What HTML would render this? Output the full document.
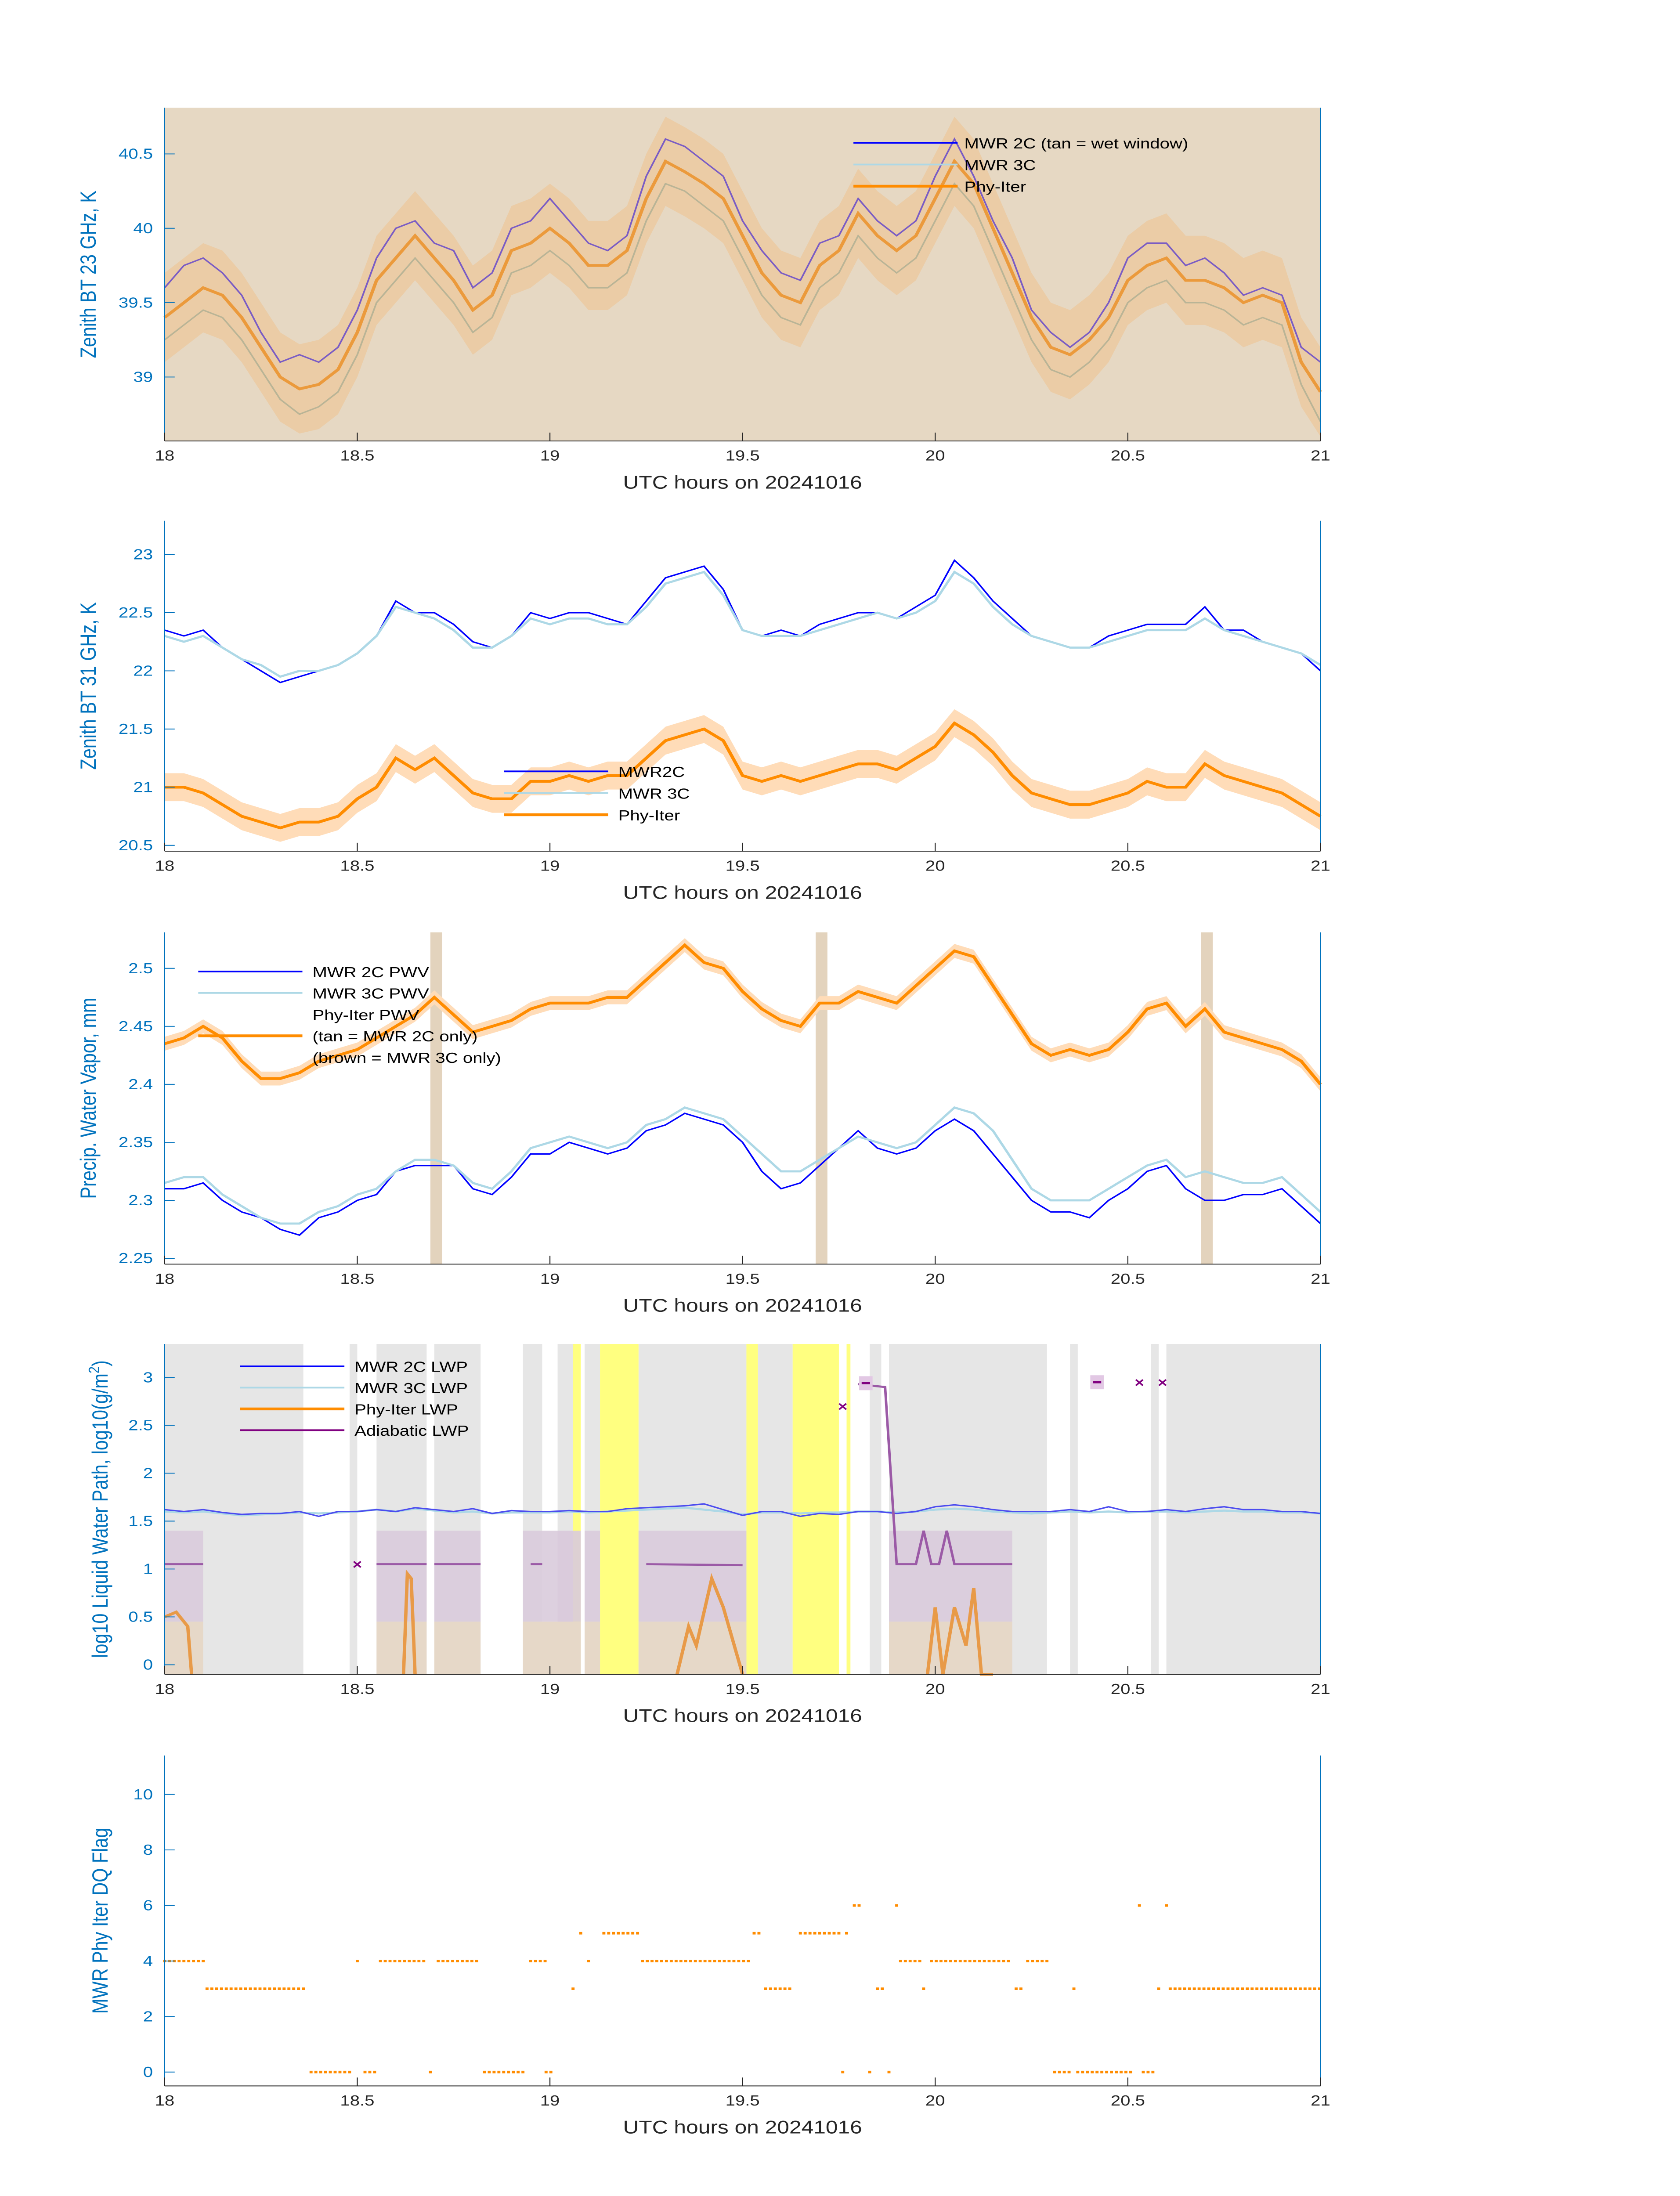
<!DOCTYPE html>
<html><head><meta charset="utf-8"><style>
html,body{margin:0;padding:0;background:#fff;width:100vw;height:100vh;overflow:hidden}
svg{display:block;font-family:"Liberation Sans",sans-serif;width:100vw;height:100vh}
</style></head><body>
<svg id="fig" viewBox="0 0 1000 1568.63" preserveAspectRatio="none" xmlns="http://www.w3.org/2000/svg"></svg>
<script>
const times=[];for(let i=0;i<=60;i++)times.push(18+i*0.05);
const xTicks=[18,18.5,19,19.5,20,20.5,21];
// Panel 1 (23 GHz)
const p1Phy=[39.4,39.5,39.6,39.55,39.4,39.2,39.0,38.92,38.95,39.05,39.3,39.65,39.8,39.95,39.8,39.65,39.45,39.55,39.85,39.9,40.0,39.9,39.75,39.75,39.85,40.2,40.45,40.38,40.3,40.2,39.95,39.7,39.55,39.5,39.75,39.85,40.1,39.95,39.85,39.95,40.2,40.45,40.3,40.0,39.7,39.4,39.2,39.15,39.25,39.4,39.65,39.75,39.8,39.65,39.65,39.6,39.5,39.55,39.5,39.1,38.9];
const p1M2=[39.6,39.75,39.8,39.7,39.55,39.3,39.1,39.15,39.1,39.2,39.45,39.8,40.0,40.05,39.9,39.85,39.6,39.7,40.0,40.05,40.2,40.05,39.9,39.85,39.95,40.35,40.6,40.55,40.45,40.35,40.05,39.85,39.7,39.65,39.9,39.95,40.2,40.05,39.95,40.05,40.35,40.6,40.35,40.05,39.8,39.45,39.3,39.2,39.3,39.5,39.8,39.9,39.9,39.75,39.8,39.7,39.55,39.6,39.55,39.2,39.1];
const p1M3=[39.25,39.35,39.45,39.4,39.25,39.05,38.85,38.75,38.8,38.9,39.15,39.5,39.65,39.8,39.65,39.5,39.3,39.4,39.7,39.75,39.85,39.75,39.6,39.6,39.7,40.05,40.3,40.25,40.15,40.05,39.8,39.55,39.4,39.35,39.6,39.7,39.95,39.8,39.7,39.8,40.05,40.3,40.15,39.85,39.55,39.25,39.05,39.0,39.1,39.25,39.5,39.6,39.65,39.5,39.5,39.45,39.35,39.4,39.35,38.95,38.7];
const p1Ticks=[39,39.5,40,40.5];
// Panel 2 (31 GHz)
const p2Phy=[21.0,21.0,20.95,20.85,20.75,20.7,20.65,20.7,20.7,20.75,20.9,21.0,21.25,21.15,21.25,21.1,20.95,20.9,20.9,21.05,21.05,21.1,21.05,21.1,21.1,21.25,21.4,21.45,21.5,21.4,21.1,21.05,21.1,21.05,21.1,21.15,21.2,21.2,21.15,21.25,21.35,21.55,21.45,21.3,21.1,20.95,20.9,20.85,20.85,20.9,20.95,21.05,21.0,21.0,21.2,21.1,21.05,21.0,20.95,20.85,20.75];
const p2M2=[22.35,22.3,22.35,22.2,22.1,22.0,21.9,21.95,22.0,22.05,22.15,22.3,22.6,22.5,22.5,22.4,22.25,22.2,22.3,22.5,22.45,22.5,22.5,22.45,22.4,22.6,22.8,22.85,22.9,22.7,22.35,22.3,22.35,22.3,22.4,22.45,22.5,22.5,22.45,22.55,22.65,22.95,22.8,22.6,22.45,22.3,22.25,22.2,22.2,22.3,22.35,22.4,22.4,22.4,22.55,22.35,22.35,22.25,22.2,22.15,22.0];
const p2M3=[22.3,22.25,22.3,22.2,22.1,22.05,21.95,22.0,22.0,22.05,22.15,22.3,22.55,22.5,22.45,22.35,22.2,22.2,22.3,22.45,22.4,22.45,22.45,22.4,22.4,22.55,22.75,22.8,22.85,22.65,22.35,22.3,22.3,22.3,22.35,22.4,22.45,22.5,22.45,22.5,22.6,22.85,22.75,22.55,22.4,22.3,22.25,22.2,22.2,22.25,22.3,22.35,22.35,22.35,22.45,22.35,22.3,22.25,22.2,22.15,22.05];
const p2Ticks=[20.5,21,21.5,22,22.5,23];
// Panel 3 (PWV)
const p3Phy=[2.435,2.44,2.45,2.44,2.42,2.405,2.405,2.41,2.42,2.425,2.43,2.44,2.45,2.46,2.475,2.46,2.445,2.45,2.455,2.465,2.47,2.47,2.47,2.475,2.475,2.49,2.505,2.52,2.505,2.5,2.48,2.465,2.455,2.45,2.47,2.47,2.48,2.475,2.47,2.485,2.5,2.515,2.51,2.485,2.46,2.435,2.425,2.43,2.425,2.43,2.445,2.465,2.47,2.45,2.465,2.445,2.44,2.435,2.43,2.42,2.4];
const p3M2=[2.31,2.31,2.315,2.3,2.29,2.285,2.275,2.27,2.285,2.29,2.3,2.305,2.325,2.33,2.33,2.33,2.31,2.305,2.32,2.34,2.34,2.35,2.345,2.34,2.345,2.36,2.365,2.375,2.37,2.365,2.35,2.325,2.31,2.315,2.33,2.345,2.36,2.345,2.34,2.345,2.36,2.37,2.36,2.34,2.32,2.3,2.29,2.29,2.285,2.3,2.31,2.325,2.33,2.31,2.3,2.3,2.305,2.305,2.31,2.295,2.28];
const p3M3=[2.315,2.32,2.32,2.305,2.295,2.285,2.28,2.28,2.29,2.295,2.305,2.31,2.325,2.335,2.335,2.33,2.315,2.31,2.325,2.345,2.35,2.355,2.35,2.345,2.35,2.365,2.37,2.38,2.375,2.37,2.355,2.34,2.325,2.325,2.335,2.345,2.355,2.35,2.345,2.35,2.365,2.38,2.375,2.36,2.335,2.31,2.3,2.3,2.3,2.31,2.32,2.33,2.335,2.32,2.325,2.32,2.315,2.315,2.32,2.305,2.29];
const p3Bars=[18.705,19.705,20.705];
const p3Ticks=[2.25,2.3,2.35,2.4,2.45,2.5];
// Panel 4 (LWP)
const grayStart=[18,18.48,18.55,18.7,18.93,19.02,19.09,19.23,19.54,19.83,19.88,20.35,20.56,20.6];
const grayEnd=[18.36,18.5,18.68,18.82,18.98,19.06,19.13,19.51,19.63,19.86,20.29,20.37,20.58,21];
const yelStart=[19.06,19.13,19.51,19.63,19.77];
const yelEnd=[19.08,19.23,19.54,19.75,19.78];
const purpStart=[18,18.55,18.7,18.93,19.02,19.09,19.23,19.88];
const purpEnd=[18.1,18.68,18.82,19.06,19.08,19.13,19.51,20.2];
const p4M2=[1.62,1.6,1.62,1.59,1.57,1.58,1.58,1.6,1.55,1.6,1.6,1.62,1.6,1.64,1.62,1.6,1.63,1.58,1.61,1.6,1.6,1.61,1.6,1.6,1.63,1.64,1.65,1.66,1.68,1.62,1.56,1.6,1.6,1.55,1.58,1.57,1.6,1.6,1.58,1.6,1.65,1.67,1.65,1.62,1.6,1.6,1.6,1.62,1.6,1.65,1.6,1.6,1.62,1.6,1.63,1.65,1.62,1.62,1.6,1.6,1.58];
const p4M3=[1.6,1.59,1.6,1.58,1.56,1.57,1.58,1.59,1.58,1.59,1.6,1.62,1.6,1.63,1.61,1.59,1.6,1.58,1.59,1.59,1.59,1.6,1.59,1.6,1.61,1.62,1.63,1.64,1.62,1.6,1.57,1.59,1.59,1.58,1.59,1.59,1.6,1.6,1.59,1.6,1.62,1.63,1.62,1.6,1.59,1.58,1.59,1.6,1.59,1.6,1.59,1.6,1.6,1.59,1.6,1.61,1.6,1.6,1.59,1.59,1.58];
const adiaT=[18,18.1,null,18.55,18.68,null,18.7,18.82,null,18.95,18.98,null,19.25,19.5,null,19.8,19.87,19.9,19.95,19.97,19.99,20.01,20.03,20.05,20.07,20.2];
const adiaV=[1.05,1.05,null,1.05,1.05,null,1.05,1.05,null,1.05,1.05,null,1.05,1.04,null,2.93,2.9,1.05,1.05,1.4,1.05,1.05,1.4,1.05,1.05,1.05];
const phyLwpT=[18,18.03,18.06,18.07,null,18.62,18.63,18.64,18.65,null,19.33,19.36,19.38,19.42,19.45,19.5,null,19.98,20.0,20.02,20.05,20.08,20.1,20.12,20.15];
const phyLwpV=[0.5,0.55,0.4,-0.1,null,-0.1,0.95,0.9,-0.1,null,-0.1,0.4,0.2,0.9,0.6,-0.1,null,-0.1,0.6,-0.1,0.6,0.2,0.8,-0.1,-0.1];
const xMarkT=[18.5,19.76,20.53,20.59];
const xMarkV=[1.05,2.7,2.95,2.95];
const dashT=[19.82,20.42];
const dashV=[2.94,2.95];
const p4Ticks=[0,0.5,1,1.5,2,2.5,3];
// Panel 5 (DQ flag) runs
const runStart=[18,18.11,18.38,18.5,18.52,18.56,18.69,18.71,18.83,18.95,18.99,19.06,19.08,19.1,19.14,19.24,19.53,19.56,19.65,19.76,19.77,19.79,19.83,19.85,19.88,19.9,19.91,19.97,19.99,20.21,20.24,20.31,20.36,20.37,20.53,20.54,20.58,20.6,20.61];
const runEnd=[18.1,18.36,18.48,18.5,18.55,18.68,18.69,18.81,18.93,18.99,19.01,19.06,19.08,19.1,19.23,19.52,19.55,19.63,19.75,19.76,19.77,19.81,19.83,19.87,19.88,19.9,19.96,19.97,20.2,20.23,20.29,20.35,20.36,20.51,20.53,20.57,20.58,20.6,21];
const runVal=[4,3,0,4,0,4,0,4,0,4,0,3,5,4,5,4,5,3,5,0,5,6,0,3,0,6,4,3,4,3,4,0,3,0,6,0,3,6,3];
const p5Ticks=[0,2,4,6,8,10];

const NS='http://www.w3.org/2000/svg';
const fig=document.getElementById('fig');
const X0=98,X1=786;
const sx=t=>X0+(t-18)/3*(X1-X0);
function mk(tag,attrs,parent){const e=document.createElementNS(NS,tag);for(const k in attrs)e.setAttribute(k,attrs[k]);(parent||fig).appendChild(e);return e;}
function scaleY(top,bot,vTop,vBot){return v=>top+(vTop-v)/(vTop-vBot)*(bot-top);}
function pathOf(ts,vs,sy){let d='',pen=false;for(let i=0;i<ts.length;i++){if(ts[i]===null||vs[i]===null){pen=false;continue;}d+=(pen?'L':'M')+sx(ts[i]).toFixed(2)+' '+sy(vs[i]).toFixed(2);pen=true;}return d;}
function bandOf(ts,vs,w,sy){let a=[],b=[];for(let i=0;i<ts.length;i++){a.push(sx(ts[i]).toFixed(2)+','+sy(vs[i]+w).toFixed(2));b.unshift(sx(ts[i]).toFixed(2)+','+sy(vs[i]-w).toFixed(2));}return a.concat(b).join(' ');}
function axes(g,top,bot,sy,yt,ylab,name){
  mk('line',{x1:X0,y1:bot,x2:X1,y2:bot,stroke:'#262626','stroke-width':0.6},g);
  mk('line',{x1:X0,y1:top,x2:X0,y2:bot,stroke:'#0072BD','stroke-width':0.6},g);
  mk('line',{x1:X1,y1:top,x2:X1,y2:bot,stroke:'#0072BD','stroke-width':0.6},g);
  xTicks.forEach(t=>{mk('line',{x1:sx(t),y1:bot,x2:sx(t),y2:bot-6,stroke:'#262626','stroke-width':0.6},g);
    const tx=mk('text',{x:sx(t),y:bot+14,'font-size':10.5,'text-anchor':'middle',fill:'#262626'},g);tx.textContent=t;
    
    });
  yt.forEach(v=>{mk('line',{x1:X0,y1:sy(v),x2:X0+6,y2:sy(v),stroke:'#0072BD','stroke-width':0.6},g);
    const tx=mk('text',{x:X0-7,y:sy(v)+3.5,'font-size':10.5,'text-anchor':'end',fill:'#0072BD'},g);tx.textContent=v;
    
    });
  const xl=mk('text',{x:(X0+X1)/2,y:bot+34,'font-size':13,'text-anchor':'middle',fill:'#262626'},g);xl.textContent='UTC hours on 20241016';
  
  
  const cy=(top+bot)/2;
  const yl=mk('text',{x:0,y:0,'font-size':13,'text-anchor':'middle',fill:'#0072BD',transform:`translate(${name==='p4'||name==='p5'?64:57},${cy}) rotate(-90)`},g);
  yl.innerHTML=ylab;
  
  
}
function legend(g,x,y0,dy,items,textX){items.forEach((it,i)=>{const y=y0+i*dy;
  if(it.c)mk('line',{x1:x,y1:y,x2:x+62,y2:y,stroke:it.c,'stroke-width':it.w},g);
  const t=mk('text',{x:textX,y:y+4,'font-size':10.5,fill:'#000'},g);t.textContent=it.t;
  
  });}
function panel(name){const g=mk('g',{});return g;}

// Panel 1
{const g=panel('panel-23ghz');const top=77,bot=315,sy=scaleY(top,bot,40.81,38.57);
 mk('rect',{x:X0,y:top,width:X1-X0,height:bot-top,fill:'#e6d8c3'},g);
 mk('polygon',{points:bandOf(times,p1Phy,0.3,sy),fill:'#efc593','fill-opacity':0.6},g);
 mk('path',{d:pathOf(times,p1M3,sy),fill:'none',stroke:'#b9b496','stroke-width':1},g);
 mk('path',{d:pathOf(times,p1M2,sy),fill:'none',stroke:'#7a5cc4','stroke-width':1},g);
 mk('path',{d:pathOf(times,p1Phy,sy),fill:'none',stroke:'#eb9a3c','stroke-width':2},g);
 axes(g,top,bot,sy,p1Ticks,'Zenith BT 23 GHz, K','p1');
 legend(g,508,102,15.5,[{c:'#0000ff',w:1.2,t:'MWR 2C (tan = wet window)'},{c:'#add8e6',w:1.2,t:'MWR 3C'},{c:'#ff8c00',w:2,t:'Phy-Iter'}],574);}
// Panel 2
{const g=panel('panel-31ghz');const top=372,bot=608,sy=scaleY(top,bot,23.29,20.45);
 mk('polygon',{points:bandOf(times,p2Phy,0.12,sy),fill:'#ffdcb8'},g);
 mk('path',{d:pathOf(times,p2M2,sy),fill:'none',stroke:'#0000ff','stroke-width':1},g);
 mk('path',{d:pathOf(times,p2M3,sy),fill:'none',stroke:'#add8e6','stroke-width':1.5},g);
 mk('path',{d:pathOf(times,p2Phy,sy),fill:'none',stroke:'#ff8c00','stroke-width':2},g);
 axes(g,top,bot,sy,p2Ticks,'Zenith BT 31 GHz, K','p2');
 legend(g,300,551,15.5,[{c:'#0000ff',w:1.2,t:'MWR2C'},{c:'#add8e6',w:1.2,t:'MWR 3C'},{c:'#ff8c00',w:2,t:'Phy-Iter'}],368);}
// Panel 3
{const g=panel('panel-pwv');const top=666,bot=903,sy=scaleY(top,bot,2.531,2.245);
 p3Bars.forEach(t=>{const r=mk('rect',{x:sx(t)-3.5,y:top,width:7,height:bot-top,fill:'#e3d3bd'},g);
   
   });
 mk('polygon',{points:bandOf(times,p3Phy,0.006,sy),fill:'#ffdcb8'},g);
 mk('path',{d:pathOf(times,p3M2,sy),fill:'none',stroke:'#0000ff','stroke-width':1},g);
 mk('path',{d:pathOf(times,p3M3,sy),fill:'none',stroke:'#add8e6','stroke-width':1.5},g);
 mk('path',{d:pathOf(times,p3Phy,sy),fill:'none',stroke:'#ff8c00','stroke-width':2},g);
 axes(g,top,bot,sy,p3Ticks,'Precip. Water Vapor, mm','p3');
 legend(g,118,694,15.3,[{c:'#0000ff',w:1.2,t:'MWR 2C PWV'},{c:'#add8e6',w:1.2,t:'MWR 3C PWV'},{c:null,t:'Phy-Iter PWV'},{c:'#ff8c00',w:2,t:'(tan = MWR 2C only)'},{c:null,t:'(brown = MWR 3C only)'}],186);}
// Panel 4
{const g=panel('panel-lwp');const top=960,bot=1196,sy=scaleY(top,bot,3.35,-0.1);
 grayStart.forEach((s,i)=>{const r=mk('rect',{x:sx(s),y:top,width:sx(grayEnd[i])-sx(s),height:bot-top,fill:'#e6e6e6'},g);
   
   });
 yelStart.forEach((s,i)=>{const r=mk('rect',{x:sx(s),y:top,width:sx(yelEnd[i])-sx(s),height:bot-top,fill:'#ffff80'},g);
   
   });
 purpStart.forEach((s,i)=>{mk('rect',{x:sx(s),y:sy(1.4),width:sx(purpEnd[i])-sx(s),height:sy(0.45)-sy(1.4),fill:'#d9cbdc','fill-opacity':0.9},g);
   mk('rect',{x:sx(s),y:sy(0.45),width:sx(purpEnd[i])-sx(s),height:bot-sy(0.45),fill:'#e6d8c8'},g);});
 mk('path',{d:pathOf(times,p4M3,sy),fill:'none',stroke:'#add8e6','stroke-width':1.5},g);
 mk('path',{d:pathOf(times,p4M2,sy),fill:'none',stroke:'#4b4bef','stroke-width':1},g);
 mk('path',{d:pathOf(phyLwpT,phyLwpV,sy),fill:'none',stroke:'#e89a48','stroke-width':2},g);
 mk('path',{d:pathOf(adiaT,adiaV,sy),fill:'none',stroke:'#9b5aa6','stroke-width':1.5},g);
 xMarkT.forEach((t,i)=>{const m=mk('text',{x:sx(t),y:sy(xMarkV[i])+3.5,'font-size':10,'font-weight':'bold','text-anchor':'middle',fill:'#800080'},g);m.textContent='×';
   
   });
 dashT.forEach((t,i)=>{mk('rect',{x:sx(t)-4,y:sy(dashV[i])-5,width:8,height:10,fill:'#e2c8e4'},g);
   mk('line',{x1:sx(t)-2.5,y1:sy(dashV[i]),x2:sx(t)+2.5,y2:sy(dashV[i]),stroke:'#800080','stroke-width':1.5},g);});
 axes(g,top,bot,sy,p4Ticks,'log10 Liquid Water Path, log10(g/m<tspan dy="-5" font-size="9">2</tspan><tspan dy="5">)</tspan>','p4');
 legend(g,143,976,15.2,[{c:'#0000ff',w:1.2,t:'MWR 2C LWP'},{c:'#add8e6',w:1.2,t:'MWR 3C LWP'},{c:'#ff8c00',w:2,t:'Phy-Iter LWP'},{c:'#800080',w:1.2,t:'Adiabatic LWP'}],211);}
// Panel 5
{const g=panel('panel-dq-flag');const top=1254,bot=1490,sy=scaleY(top,bot,11.4,-0.5);
 runStart.forEach((s,i)=>{for(let t=s;t<=runEnd[i]+1e-6;t+=0.0125){const c=mk('rect',{x:sx(t)-0.9,y:sy(runVal[i])-0.9,width:1.8,height:1.8,fill:'#ff8c00'},g);
   
   }});
 axes(g,top,bot,sy,p5Ticks,'MWR Phy Iter DQ Flag','p5');}
</script>
</body></html>
